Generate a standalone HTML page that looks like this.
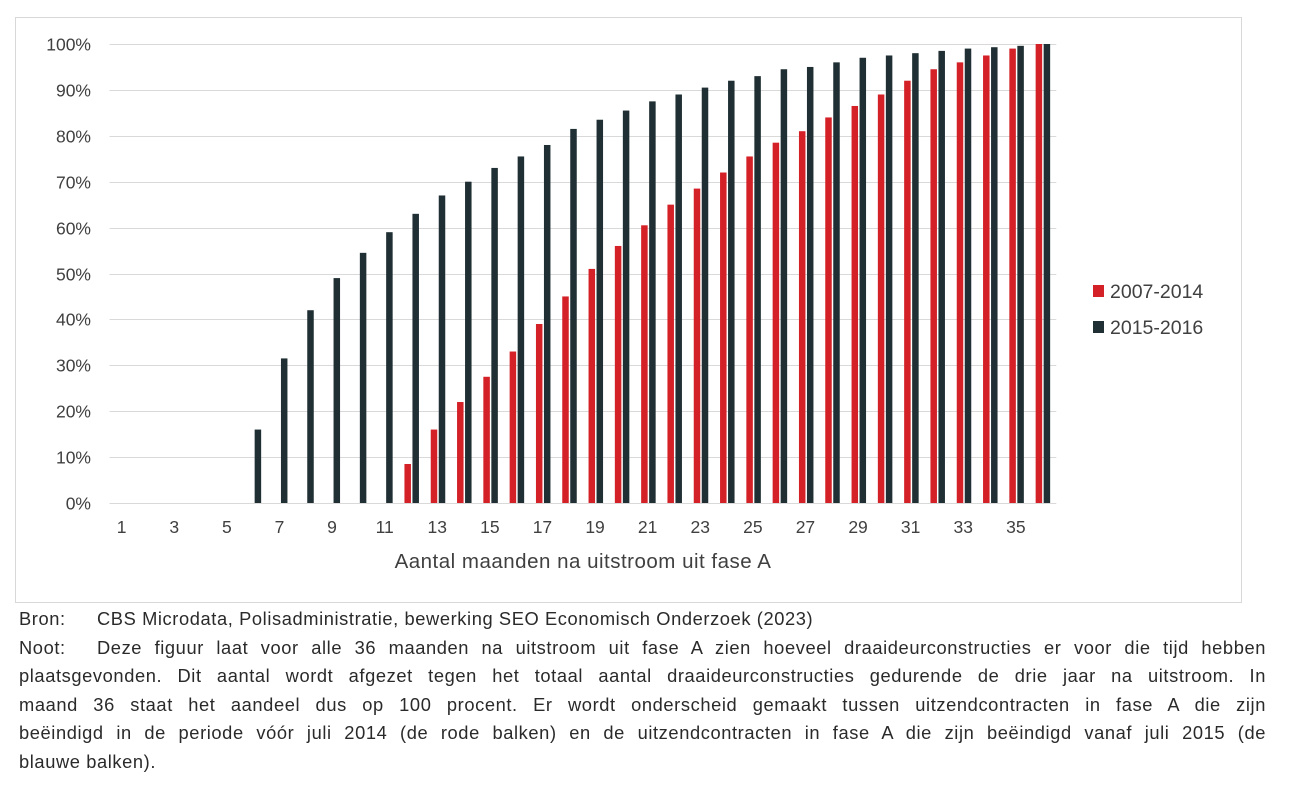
<!DOCTYPE html>
<html><head><meta charset="utf-8"><style>
body{margin:0;background:#fff;width:1299px;height:807px;overflow:hidden;font-family:"Liberation Sans",sans-serif;color:#333}
.note{position:absolute;left:19px;width:1247px;font-size:18.3px;line-height:28.6px;color:#2a2a2a;letter-spacing:0.6px}
.l{display:block;text-align:justify;text-align-last:justify;white-space:nowrap}
.lab{display:inline-block;width:78px}
</style></head><body>
<svg width="1299" height="807" style="position:absolute;left:0;top:0" id="s">
<rect x="15.5" y="17.5" width="1226" height="585" fill="none" stroke="#d8d8d8"/>
<g id="g" stroke="#d9d9d9" stroke-width="1"></g>
<g id="b"></g>
<g font-size="17.5" fill="#404040" text-anchor="end" id="yl"></g>
<g font-size="17.5" fill="#404040" text-anchor="middle" id="xl"></g>
<text x="583" y="568" font-size="20.5" fill="#404040" text-anchor="middle" letter-spacing="0.5">Aantal maanden na uitstroom uit fase A</text>
<rect x="1093" y="285" width="11" height="12" fill="#d42027"/>
<text x="1110" y="298" font-size="19.5" fill="#404040">2007-2014</text>
<rect x="1093" y="321" width="11" height="12" fill="#1f2f33"/>
<text x="1110" y="334" font-size="19.5" fill="#404040">2015-2016</text>
</svg>
<div class="note" style="top:605px">
<span style="display:block;white-space:nowrap"><span class="lab">Bron:</span>CBS Microdata, Polisadministratie, bewerking SEO Economisch Onderzoek (2023)</span>
<span style="display:flex;white-space:nowrap"><span class="lab">Noot:</span><span class="l" style="flex:1">Deze figuur laat voor alle 36 maanden na uitstroom uit fase A zien hoeveel draaideurconstructies er voor die tijd hebben</span></span>
<span class="l">plaatsgevonden. Dit aantal wordt afgezet tegen het totaal aantal draaideurconstructies gedurende de drie jaar na uitstroom. In</span>
<span class="l">maand 36 staat het aandeel dus op 100 procent. Er wordt onderscheid gemaakt tussen uitzendcontracten in fase A die zijn</span>
<span class="l">beëindigd in de periode vóór juli 2014 (de rode balken) en de uitzendcontracten in fase A die zijn beëindigd vanaf juli 2015 (de</span>
<span style="display:block">blauwe balken).</span>
</div>
<script>
var NS="http://www.w3.org/2000/svg";
function el(p,t,a,txt){var e=document.createElementNS(NS,t);for(var k in a)e.setAttribute(k,a[k]);if(txt)e.textContent=txt;document.getElementById(p).appendChild(e);}
var y0=503,y1=44,L=109.5,W=26.3;
function Y(v){return y0-(y0-y1)*v/100;}
for(var i=0;i<=10;i++){var y=Math.round(Y(i*10))+0.5;el("g","line",{x1:L,x2:L+36*W,y1:y,y2:y});el("yl","text",{x:91,y:y+6},(i*10)+"%");}
var d=[0,0,0,0,0,16,31.5,42,49,54.5,59,63,67,70,73,75.5,78,81.5,83.5,85.5,87.5,89,90.5,92,93,94.5,95,96,97,97.5,98,98.5,99,99.3,99.6,100];
var r=[0,0,0,0,0,0,0,0,0,0,0,8.5,16,22,27.5,33,39,45,51,56,60.5,65,68.5,72,75.5,78.5,81,84,86.5,89,92,94.5,96,97.5,99,100];
for(var i=0;i<36;i++){var c=L+W*(i+0.5);
if(r[i])el("b","rect",{x:c-7.5,y:Y(r[i]),width:6.5,height:y0-Y(r[i]),fill:"#d42027"});
if(d[i])el("b","rect",{x:c+0.5,y:Y(d[i]),width:6.5,height:y0-Y(d[i]),fill:"#1f2f33"});
if(i%2==0)el("xl","text",{x:c-1,y:533},String(i+1));}
</script>
</body></html>
